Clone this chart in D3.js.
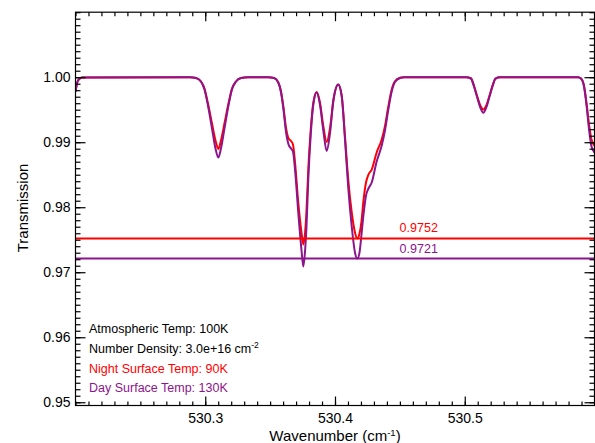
<!DOCTYPE html>
<html>
<head>
<meta charset="utf-8">
<script src="https://cdn.jsdelivr.net/npm/d3@7"></script>
<style>
  body { margin: 0; background: #fff; }
  svg text { font-family: "Liberation Sans", Arial, Helvetica, sans-serif; }
</style>
</head>
<body>
<div id="chart"></div>
<script>

// wavenumber samples (cm-1), shared by both curves
let wavenumber = [
    530.2000, 530.2019, 530.2050, 530.2882, 530.2929, 530.2967, 530.2994, 530.3021,
    530.3052, 530.3079, 530.3101, 530.3121, 530.3148, 530.3179, 530.3206, 530.3237,
    530.3276, 530.3329, 530.3484, 530.3530, 530.3561, 530.3584, 530.3603, 530.3622,
    530.3642, 530.3661, 530.3676, 530.3692, 530.3717, 530.3742, 530.3756, 530.3770,
    530.3780, 530.3794, 530.3813, 530.3833, 530.3859, 530.3884, 530.3910, 530.3936,
    530.3961, 530.3988, 530.4025, 530.4052, 530.4077, 530.4102, 530.4129, 530.4154,
    530.4172, 530.4189, 530.4204, 530.4218, 530.4239, 530.4258, 530.4283, 530.4321,
    530.4360, 530.4385, 530.4411, 530.4437, 530.4462, 530.4501, 530.4532, 530.5010,
    530.5048, 530.5071, 530.5094, 530.5120, 530.5143, 530.5166, 530.5191, 530.5214,
    530.5237, 530.5272, 530.5873, 530.5896, 530.5919, 530.5938, 530.5958, 530.5977,
    530.6000
];

// night surface temp 90K
let trans_night = [
    0.99780, 0.99949, 0.99995, 1.00000, 0.99988, 0.99934, 0.99826, 0.99595,
    0.99288, 0.99026, 0.98896, 0.99026, 0.99288, 0.99595, 0.99826, 0.99934,
    0.99988, 1.00000, 1.00000, 0.99988, 0.99926, 0.99780, 0.99534, 0.99226,
    0.99057, 0.99019, 0.98965, 0.98688, 0.98073, 0.97611, 0.97426, 0.97626,
    0.97934, 0.98579, 0.99195, 0.99611, 0.99772, 0.99611, 0.99246, 0.99003,
    0.99211, 0.99657, 0.99888, 0.99708, 0.99092, 0.98426, 0.97919, 0.97611,
    0.97520, 0.97596, 0.97780, 0.98073, 0.98380, 0.98503, 0.98579, 0.98842,
    0.99042, 0.99246, 0.99549, 0.99811, 0.99938, 0.99991, 1.00000, 1.00000,
    0.99980, 0.99872, 0.99719, 0.99565, 0.99503, 0.99565, 0.99719, 0.99872,
    0.99980, 1.00000, 1.00000, 0.99980, 0.99872, 0.99611, 0.99272, 0.99042,
    0.98949
];

// day surface temp 130K
let trans_day = [
    0.99780, 0.99949, 0.99995, 1.00000, 0.99988, 0.99934, 0.99811, 0.99565,
    0.99211, 0.98903, 0.98765, 0.98903, 0.99211, 0.99565, 0.99811, 0.99934,
    0.99988, 1.00000, 1.00000, 0.99988, 0.99926, 0.99765, 0.99503, 0.99165,
    0.98965, 0.98903, 0.98857, 0.98579, 0.97919, 0.97334, 0.97088, 0.97350,
    0.97688, 0.98426, 0.99119, 0.99580, 0.99765, 0.99580, 0.99180, 0.98865,
    0.99134, 0.99642, 0.99888, 0.99703, 0.99042, 0.98303, 0.97703, 0.97303,
    0.97210, 0.97303, 0.97580, 0.97857, 0.98180, 0.98288, 0.98380, 0.98703,
    0.98949, 0.99180, 0.99503, 0.99780, 0.99926, 0.99988, 1.00000, 1.00000,
    0.99980, 0.99857, 0.99703, 0.99534, 0.99452, 0.99534, 0.99703, 0.99857,
    0.99980, 1.00000, 1.00000, 0.99980, 0.99857, 0.99580, 0.99195, 0.98934,
    0.98842
];

let min_levels = [0.9752, 0.9721];
let min_labels = ["0.9752", "0.9721"];

let x_ticks = [530.3, 530.4, 530.5];
let x_tick_labels = ["530.3", "530.4", "530.5"];
let y_ticks = [0.95, 0.96, 0.97, 0.98, 0.99, 1.00];
let y_tick_labels = ["0.95", "0.96", "0.97", "0.98", "0.99", "1.00"];

let notes = [
    ["Atmospheric Temp: 100K", null],
    ["Number Density: 3.0e+16 cm", "-2"],
    ["Night Surface Temp: 90K", null],
    ["Day Surface Temp: 130K", null]
];

let red = "#ff0000";
let purple = "#8c148c";
let note_colors = ["#000", "#000", red, purple];

let chart_width = 595, chart_height = 443;
let plot_left = 75.5, plot_right = 594.5, plot_top = 12.2, plot_bottom = 405.5;

let svg = d3.select("#chart").append("svg")
    .attr("width", chart_width)
    .attr("height", chart_height);

let xScale = d3.scaleLinear().domain([530.2, 530.6]).range([plot_left, plot_right]);
let yScale = d3.scaleLinear().domain([0.9495, 1.0100]).range([plot_bottom, plot_top]);

// minor ticks every 0.01 / 0.001
let x_minor = d3.range(0, 41).map(i => 530.2 + i * 0.01);
let y_minor = d3.range(0, 61).map(i => 0.95 + i * 0.001);

svg.append("defs").append("clipPath").attr("id", "plotclip")
    .append("rect")
    .attr("x", plot_left).attr("y", plot_top)
    .attr("width", plot_right - plot_left).attr("height", plot_bottom - plot_top);

// curves
let line = d3.line()
    .x((d, i) => xScale(wavenumber[i]))
    .y(d => yScale(d))
    .curve(d3.curveMonotoneX);

let plot = svg.append("g").attr("clip-path", "url(#plotclip)");

plot.append("path")
    .datum(trans_night)
    .attr("d", line)
    .attr("fill", "none")
    .attr("stroke", red)
    .attr("stroke-width", 2);

plot.append("path")
    .datum(trans_day)
    .attr("d", line)
    .attr("fill", "none")
    .attr("stroke", purple)
    .attr("stroke-width", 2);

// min level lines
plot.selectAll(".min_line")
    .data(min_levels)
    .enter()
    .append("line")
    .attr("class", "min_line")
    .attr("x1", plot_left).attr("x2", plot_right)
    .attr("y1", d => yScale(d)).attr("y2", d => yScale(d))
    .attr("stroke", (d, i) => i == 0 ? red : purple)
    .attr("stroke-width", 2);

svg.selectAll(".min_label")
    .data(min_levels)
    .enter()
    .append("text")
    .attr("class", "min_label")
    .attr("x", xScale(530.4498))
    .attr("y", d => yScale(d) - 6)
    .attr("font-size", 12.5)
    .attr("fill", (d, i) => i == 0 ? red : purple)
    .text((d, i) => min_labels[i]);

// axes
function style_axis(g) {
    g.select(".domain").remove();
    g.selectAll("line").attr("stroke", "#000").attr("stroke-width", 1.2);
    g.selectAll("text").attr("fill", "#000").attr("font-size", 14)
        .attr("font-family", "Liberation Sans, Arial, sans-serif");
}

svg.append("g")
    .attr("transform", "translate(0," + plot_bottom + ")")
    .call(d3.axisBottom(xScale).tickValues(x_minor).tickSize(-4).tickFormat(""))
    .call(style_axis);
svg.append("g")
    .attr("transform", "translate(0," + plot_bottom + ")")
    .call(d3.axisBottom(xScale).tickValues(x_ticks).tickSize(-9).tickPadding(8)
        .tickFormat((d, i) => x_tick_labels[i]))
    .call(style_axis);
svg.append("g")
    .attr("transform", "translate(0," + plot_top + ")")
    .call(d3.axisTop(xScale).tickValues(x_minor).tickSize(-4).tickFormat(""))
    .call(style_axis);
svg.append("g")
    .attr("transform", "translate(0," + plot_top + ")")
    .call(d3.axisTop(xScale).tickValues(x_ticks).tickSize(-9).tickFormat(""))
    .call(style_axis);

svg.append("g")
    .attr("transform", "translate(" + plot_left + ",0)")
    .call(d3.axisLeft(yScale).tickValues(y_minor).tickSize(-5).tickFormat(""))
    .call(style_axis);
svg.append("g")
    .attr("transform", "translate(" + plot_left + ",0)")
    .call(d3.axisLeft(yScale).tickValues(y_ticks).tickSize(-10).tickPadding(5)
        .tickFormat((d, i) => y_tick_labels[i]))
    .call(style_axis);
svg.append("g")
    .attr("transform", "translate(" + plot_right + ",0)")
    .call(d3.axisRight(yScale).tickValues(y_minor).tickSize(-5).tickFormat(""))
    .call(style_axis);
svg.append("g")
    .attr("transform", "translate(" + plot_right + ",0)")
    .call(d3.axisRight(yScale).tickValues(y_ticks).tickSize(-10).tickFormat(""))
    .call(style_axis);

// frame
svg.append("rect")
    .attr("x", plot_left).attr("y", plot_top)
    .attr("width", plot_right - plot_left).attr("height", plot_bottom - plot_top)
    .attr("fill", "none")
    .attr("stroke", "#000")
    .attr("stroke-width", 1.2);

// annotations
let note_g = svg.append("g");
notes.forEach(function(n, i) {
    let t = note_g.append("text")
        .attr("x", 89)
        .attr("y", 333 + i * 19.8)
        .attr("font-size", 12.5)
        .attr("fill", note_colors[i])
        .text(n[0]);
    if (n[1]) {
        t.append("tspan")
            .attr("dy", -5)
            .attr("font-size", 8.5)
            .text(n[1]);
    }
});

// axis titles
let xt = svg.append("text")
    .attr("x", 335)
    .attr("y", 441)
    .attr("text-anchor", "middle")
    .attr("font-size", 15)
    .text("Wavenumber (cm");
xt.append("tspan").attr("dy", -5.5).attr("font-size", 9.5).text("-1");
xt.append("tspan").attr("dy", 5.5).text(")");

svg.append("text")
    .attr("transform", "translate(28,208) rotate(-90)")
    .attr("text-anchor", "middle")
    .attr("font-size", 15)
    .text("Transmission");

</script>
</body>
</html>
